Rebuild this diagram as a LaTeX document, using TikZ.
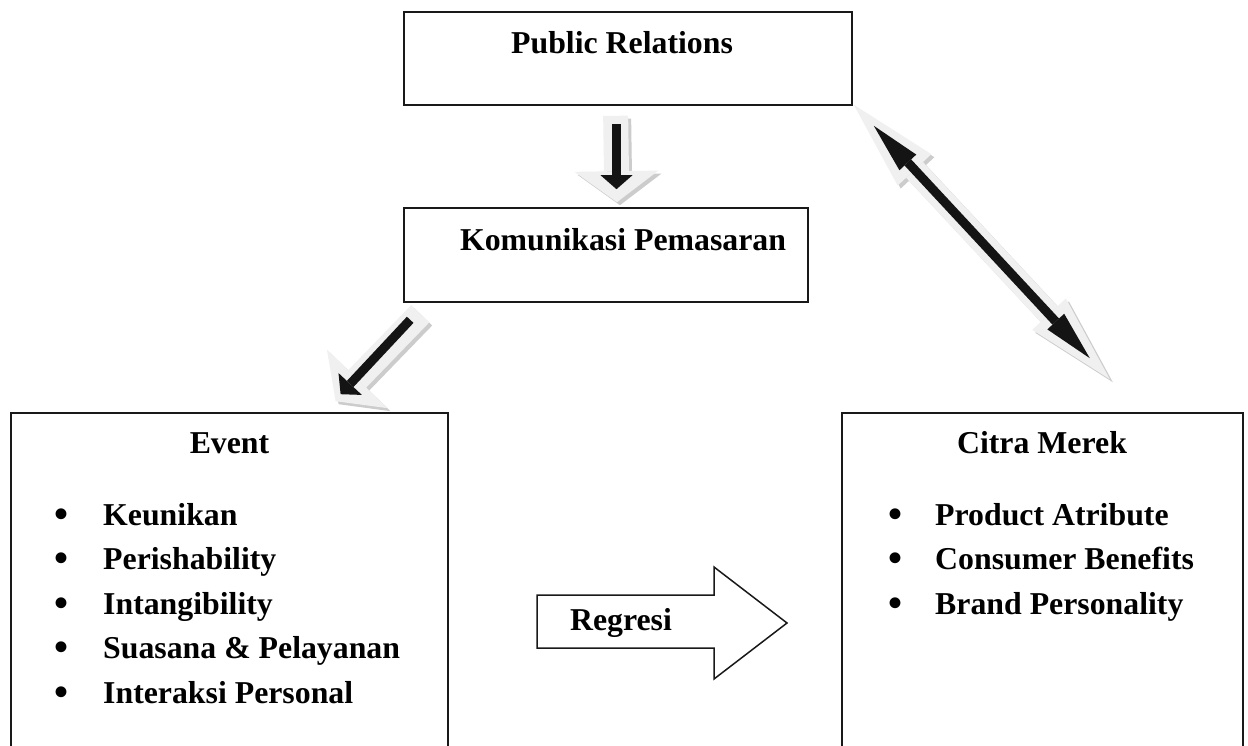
\documentclass[tikz,border=0pt]{standalone}
\usepackage{fontspec}
\setmainfont{Liberation Serif}
\usetikzlibrary{arrows.meta}
\begin{document}
\begin{tikzpicture}[x=1pt,y=-1pt,
  box/.style={draw=black!90, line width=1.6pt, fill=white, inner sep=0pt},
  txt/.style={font=\fontsize{31.8}{38}\selectfont\bfseries, anchor=base, inner sep=0pt},
  itm/.style={txt, anchor=base west},
  bul/.style={font=\fontsize{40}{44}\selectfont\bfseries, anchor=base, inner sep=0pt},
  blkA/.style={line width=9pt, draw=black!92, -{Triangle[width=32pt,length=14pt,line width=0pt]}},
  gryA/.style={line width=25pt, draw=gray!12, -{Triangle[width=84pt,length=31pt,line width=0pt]}},
  shdA/.style={gryA, draw=gray!40, transform canvas={shift={(3pt,-3pt)}}},
  blkB/.style={line width=9pt, draw=black!92, {Triangle[width=23pt,length=50pt,line width=0pt]}-{Triangle[width=23pt,length=50pt,line width=0pt]}},
  gryB/.style={line width=23pt, draw=gray!12, {Triangle[width=46pt,length=89pt,line width=0pt]}-{Triangle[width=46pt,length=89pt,line width=0pt]}},
  shdB/.style={gryB, draw=gray!40, transform canvas={shift={(3pt,-3pt)}}},
  regarrow/.style={draw=black!90, line width=1.5pt, fill=white, line join=miter}
]
\useasboundingbox (0,0) rectangle (1248,745);
\clip (0,0) rectangle (1248,745);
\fill[white] (0,0) rectangle (1248,745);

% boxes
\node[box, minimum width=448pt, minimum height=93pt] (pr) at (628,58.5) {};
\node[box, minimum width=404pt, minimum height=94pt] (kp) at (606,255) {};
\node[box, minimum width=437pt, minimum height=387pt] (ev) at (229.3,606.5) {};
\node[box, minimum width=401pt, minimum height=387pt] (cm) at (1042.5,606.5) {};

% titles
\node[txt] (prt) at (622,53) {Public Relations};
\node[txt] (kpt) at (623,250) {Komunikasi Pemasaran};
\node[txt] (evt) at (229.5,453) {Event};
\node[txt] (cmt) at (1042,453) {Citra Merek};

% event list
\foreach \y/\t [count=\i] in {525/Keunikan, 569.5/Perishability, 614/Intangibility, 658.5/Suasana \& Pelayanan, 703/Interaksi Personal}{
  \node[bul] (evb\i) at (62,\y+2) {\textbullet};
  \node[itm] (evi\i) at (103,\y) {\t};
}
% citra list
\foreach \y/\t [count=\i] in {525/Product Atribute, 569.5/Consumer Benefits, 614/Brand Personality}{
  \node[bul] (cmb\i) at (895,\y+2) {\textbullet};
  \node[itm] (cmi\i) at (935,\y) {\t};
}

% down arrow PR -> KP
\draw[shdA, shorten <=10pt, shorten >=5pt] ([xshift=-12.5pt]pr.south) -- ([xshift=11pt]kp.north);
\draw[gryA, shorten <=10pt, shorten >=5pt] ([xshift=-12.5pt]pr.south) -- ([xshift=11pt]kp.north);
\draw[blkA, shorten <=18pt, shorten >=18pt] ([xshift=-11.5pt]pr.south) -- ([xshift=10.5pt]kp.north);

% diagonal arrow KP -> Event
\draw[shdA] ([xshift=17pt,yshift=-11pt]kp.south west) -- ([xshift=-113pt,yshift=11pt]ev.north east);
\draw[gryA] ([xshift=17pt,yshift=-11pt]kp.south west) -- ([xshift=-113pt,yshift=11pt]ev.north east);
\draw[blkA] ([xshift=7pt,yshift=-17pt]kp.south west) -- ([xshift=-108pt,yshift=18pt]ev.north east);

% double arrow PR <-> Citra Merek
\draw[shdB] ([xshift=1pt,yshift=1pt]pr.south east) -- ([xshift=-134pt,yshift=33pt]cm.north east);
\draw[gryB] ([xshift=1pt,yshift=1pt]pr.south east) -- ([xshift=-134pt,yshift=33pt]cm.north east);
\draw[blkB] ([xshift=21pt,yshift=-20pt]pr.south east) -- ([xshift=-154pt,yshift=54pt]cm.north east);

% Regresi block arrow
\draw[regarrow] (537,595) -- (714,595) -- (714,567) -- (787,623) -- (714,679) -- (714,648) -- (537,648) -- cycle;
\node[txt] (reg) at (621,630) {Regresi};
\end{tikzpicture}
\end{document}
